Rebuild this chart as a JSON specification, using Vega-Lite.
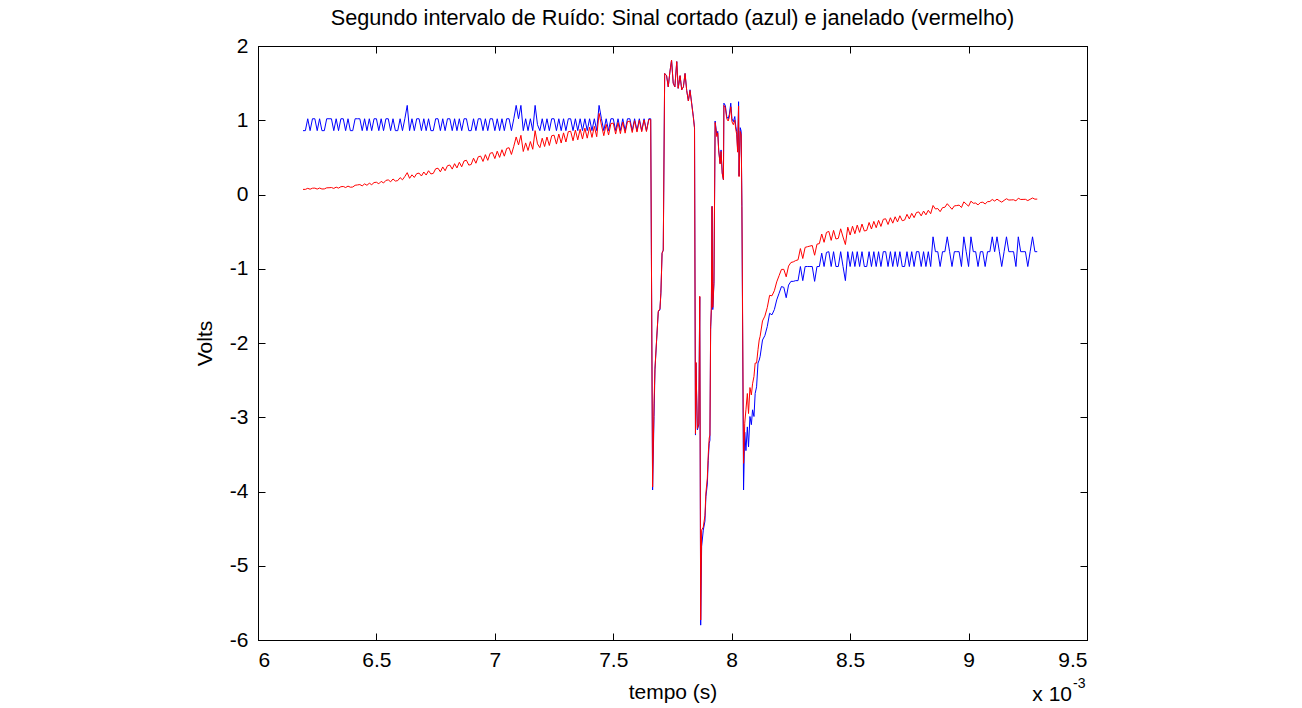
{
"$schema": "https://vega.github.io/schema/vega-lite/v6.json",
"autosize": {"type": "none"},
"padding": {"left": 258, "top": 46, "right": 215, "bottom": 68},
"width": 829,
"height": 594,
"background": "white",
"title": {"text": "Segundo intervalo de Ruído: Sinal cortado (azul) e janelado (vermelho)", "font": "Liberation Sans", "fontSize": 21.7, "fontWeight": "normal", "color": "black", "anchor": "middle", "offset": 5},
"config": {
  "view": {"stroke": "black", "strokeWidth": 1},
  "axis": {"grid": false, "domainColor": "black", "domainWidth": 1, "tickColor": "black", "tickWidth": 1, "labelColor": "black", "labelFont": "Liberation Sans", "labelFontSize": 21, "titleFont": "Liberation Sans", "titleFontSize": 21, "titleFontWeight": "normal", "titleColor": "black"}
},
"data": {"values": [
{"t":6.19,"b":0.86,"r":0.069},
{"t":6.20,"b":0.86,"r":0.069},
{"t":6.21,"b":1.02,"r":0.083},
{"t":6.22,"b":0.86,"r":0.071},
{"t":6.23,"b":1.02,"r":0.085},
{"t":6.24,"b":1.02,"r":0.086},
{"t":6.25,"b":0.86,"r":0.073},
{"t":6.26,"b":1.02,"r":0.087},
{"t":6.27,"b":0.86,"r":0.074},
{"t":6.28,"b":0.86,"r":0.075},
{"t":6.29,"b":1.02,"r":0.090},
{"t":6.30,"b":1.02,"r":0.091},
{"t":6.31,"b":1.02,"r":0.094},
{"t":6.32,"b":0.86,"r":0.082},
{"t":6.33,"b":1.02,"r":0.099},
{"t":6.34,"b":0.86,"r":0.086},
{"t":6.35,"b":1.02,"r":0.105},
{"t":6.36,"b":1.02,"r":0.108},
{"t":6.37,"b":0.86,"r":0.094},
{"t":6.38,"b":1.02,"r":0.113},
{"t":6.39,"b":0.86,"r":0.098},
{"t":6.40,"b":0.86,"r":0.101},
{"t":6.41,"b":1.02,"r":0.124},
{"t":6.42,"b":1.02,"r":0.129},
{"t":6.43,"b":1.02,"r":0.134},
{"t":6.44,"b":0.86,"r":0.116},
{"t":6.45,"b":1.02,"r":0.143},
{"t":6.46,"b":0.86,"r":0.124},
{"t":6.47,"b":1.02,"r":0.152},
{"t":6.48,"b":0.86,"r":0.132},
{"t":6.49,"b":1.02,"r":0.161},
{"t":6.50,"b":1.02,"r":0.165},
{"t":6.51,"b":0.86,"r":0.144},
{"t":6.52,"b":1.02,"r":0.177},
{"t":6.53,"b":0.86,"r":0.155},
{"t":6.54,"b":1.02,"r":0.190},
{"t":6.55,"b":1.02,"r":0.197},
{"t":6.56,"b":0.86,"r":0.171},
{"t":6.57,"b":1.02,"r":0.209},
{"t":6.58,"b":0.86,"r":0.181},
{"t":6.59,"b":0.86,"r":0.187},
{"t":6.60,"b":1.02,"r":0.227},
{"t":6.61,"b":0.86,"r":0.198},
{"t":6.62,"b":1.02,"r":0.243},
{"t":6.63,"b":1.20,"r":0.294},
{"t":6.64,"b":0.86,"r":0.218},
{"t":6.65,"b":1.02,"r":0.265},
{"t":6.66,"b":0.86,"r":0.230},
{"t":6.67,"b":1.02,"r":0.281},
{"t":6.68,"b":1.02,"r":0.288},
{"t":6.69,"b":0.86,"r":0.249},
{"t":6.70,"b":1.02,"r":0.303},
{"t":6.71,"b":0.86,"r":0.262},
{"t":6.72,"b":1.02,"r":0.320},
{"t":6.73,"b":0.86,"r":0.277},
{"t":6.74,"b":0.86,"r":0.284},
{"t":6.75,"b":1.02,"r":0.346},
{"t":6.76,"b":1.02,"r":0.354},
{"t":6.77,"b":0.86,"r":0.305},
{"t":6.78,"b":1.02,"r":0.371},
{"t":6.79,"b":0.86,"r":0.320},
{"t":6.80,"b":1.02,"r":0.388},
{"t":6.81,"b":1.02,"r":0.397},
{"t":6.82,"b":0.86,"r":0.342},
{"t":6.83,"b":1.02,"r":0.415},
{"t":6.84,"b":0.86,"r":0.358},
{"t":6.85,"b":1.02,"r":0.434},
{"t":6.86,"b":0.86,"r":0.373},
{"t":6.87,"b":1.02,"r":0.452},
{"t":6.88,"b":1.02,"r":0.461},
{"t":6.89,"b":0.86,"r":0.396},
{"t":6.90,"b":0.86,"r":0.404},
{"t":6.91,"b":1.02,"r":0.489},
{"t":6.92,"b":0.86,"r":0.421},
{"t":6.93,"b":1.02,"r":0.508},
{"t":6.94,"b":1.02,"r":0.517},
{"t":6.95,"b":0.86,"r":0.445},
{"t":6.96,"b":1.02,"r":0.537},
{"t":6.97,"b":0.86,"r":0.460},
{"t":6.98,"b":1.02,"r":0.555},
{"t":6.99,"b":1.02,"r":0.565},
{"t":7.00,"b":0.86,"r":0.484},
{"t":7.01,"b":1.02,"r":0.583},
{"t":7.02,"b":0.86,"r":0.500},
{"t":7.03,"b":1.02,"r":0.603},
{"t":7.04,"b":0.86,"r":0.516},
{"t":7.05,"b":1.02,"r":0.621},
{"t":7.06,"b":1.02,"r":0.630},
{"t":7.07,"b":0.86,"r":0.539},
{"t":7.08,"b":1.02,"r":0.650},
{"t":7.09,"b":1.20,"r":0.775},
{"t":7.10,"b":1.02,"r":0.668},
{"t":7.11,"b":1.20,"r":0.797},
{"t":7.12,"b":0.86,"r":0.579},
{"t":7.13,"b":1.02,"r":0.695},
{"t":7.14,"b":0.86,"r":0.593},
{"t":7.15,"b":1.02,"r":0.713},
{"t":7.16,"b":0.86,"r":0.609},
{"t":7.17,"b":1.20,"r":0.860},
{"t":7.18,"b":0.94,"r":0.682},
{"t":7.19,"b":0.86,"r":0.631},
{"t":7.20,"b":1.02,"r":0.758},
{"t":7.21,"b":0.86,"r":0.646},
{"t":7.22,"b":1.02,"r":0.774},
{"t":7.23,"b":0.86,"r":0.660},
{"t":7.24,"b":1.02,"r":0.791},
{"t":7.25,"b":1.02,"r":0.799},
{"t":7.26,"b":0.86,"r":0.679},
{"t":7.27,"b":1.02,"r":0.814},
{"t":7.28,"b":0.86,"r":0.693},
{"t":7.29,"b":1.02,"r":0.830},
{"t":7.30,"b":0.86,"r":0.707},
{"t":7.31,"b":1.02,"r":0.846},
{"t":7.32,"b":1.02,"r":0.852},
{"t":7.33,"b":0.86,"r":0.724},
{"t":7.34,"b":1.02,"r":0.866},
{"t":7.35,"b":0.86,"r":0.736},
{"t":7.36,"b":1.02,"r":0.879},
{"t":7.37,"b":0.86,"r":0.747},
{"t":7.38,"b":1.02,"r":0.894},
{"t":7.39,"b":0.86,"r":0.759},
{"t":7.40,"b":1.02,"r":0.907},
{"t":7.41,"b":0.86,"r":0.769},
{"t":7.42,"b":1.02,"r":0.918},
{"t":7.43,"b":0.86,"r":0.778},
{"t":7.44,"b":1.20,"r":1.092},
{"t":7.45,"b":1.02,"r":0.934},
{"t":7.46,"b":0.86,"r":0.792},
{"t":7.47,"b":1.02,"r":0.945},
{"t":7.48,"b":0.86,"r":0.801},
{"t":7.49,"b":1.02,"r":0.956},
{"t":7.50,"b":1.02,"r":0.961},
{"t":7.51,"b":0.86,"r":0.814},
{"t":7.52,"b":1.02,"r":0.968},
{"t":7.53,"b":0.86,"r":0.820},
{"t":7.54,"b":1.02,"r":0.975},
{"t":7.55,"b":0.86,"r":0.826},
{"t":7.56,"b":1.02,"r":0.983},
{"t":7.57,"b":1.02,"r":0.986},
{"t":7.58,"b":0.86,"r":0.835},
{"t":7.59,"b":1.02,"r":0.993},
{"t":7.60,"b":0.86,"r":0.841},
{"t":7.61,"b":1.02,"r":1.000},
{"t":7.62,"b":0.86,"r":0.845},
{"t":7.63,"b":1.02,"r":1.004},
{"t":7.64,"b":0.86,"r":0.848},
{"t":7.65,"b":1.02,"r":1.008},
{"t":7.658,"b":1.02,"r":1.01},
{"t":7.666,"b":-3.98,"r":-3.94},
{"t":7.672,"b":-2.99,"r":-2.81},
{"t":7.676,"b":-2.36,"r":-2.34},
{"t":7.683,"b":-1.96,"r":-1.95},
{"t":7.690,"b":-1.58,"r":-1.57},
{"t":7.697,"b":-1.55,"r":-1.54},
{"t":7.701,"b":-1.33,"r":-1.32},
{"t":7.706,"b":-0.79,"r":-0.79},
{"t":7.711,"b":-0.75,"r":-0.75},
{"t":7.717,"b":1.63,"r":1.63},
{"t":7.725,"b":1.60,"r":1.60},
{"t":7.732,"b":1.45,"r":1.45},
{"t":7.739,"b":1.65,"r":1.65},
{"t":7.746,"b":1.81,"r":1.81},
{"t":7.753,"b":1.50,"r":1.50},
{"t":7.760,"b":1.45,"r":1.45},
{"t":7.768,"b":1.79,"r":1.79},
{"t":7.774,"b":1.43,"r":1.43},
{"t":7.782,"b":1.60,"r":1.60},
{"t":7.789,"b":1.41,"r":1.41},
{"t":7.796,"b":1.45,"r":1.45},
{"t":7.803,"b":1.63,"r":1.63},
{"t":7.810,"b":1.40,"r":1.40},
{"t":7.817,"b":1.26,"r":1.26},
{"t":7.824,"b":1.41,"r":1.40},
{"t":7.831,"b":1.23,"r":1.22},
{"t":7.838,"b":1.05,"r":1.04},
{"t":7.843,"b":0.90,"r":0.89},
{"t":7.847,"b":-3.24,"r":-3.22},
{"t":7.849,"b":-2.27,"r":-2.26},
{"t":7.855,"b":-3.17,"r":-3.15},
{"t":7.861,"b":-3.10,"r":-3.08},
{"t":7.865,"b":-1.38,"r":-1.37},
{"t":7.869,"b":-5.80,"r":-5.73},
{"t":7.873,"b":-4.74,"r":-4.52},
{"t":7.880,"b":-4.52,"r":-4.48},
{"t":7.887,"b":-4.40,"r":-4.32},
{"t":7.891,"b":-4.07,"r":-4.02},
{"t":7.897,"b":-3.90,"r":-3.82},
{"t":7.901,"b":-3.58,"r":-3.50},
{"t":7.905,"b":-3.35,"r":-3.28},
{"t":7.908,"b":-3.31,"r":-3.24},
{"t":7.911,"b":-1.82,"r":-1.78},
{"t":7.914,"b":-1.56,"r":-1.53},
{"t":7.917,"b":-0.16,"r":-0.16},
{"t":7.920,"b":-1.55,"r":-1.52},
{"t":7.925,"b":-1.20,"r":-1.17},
{"t":7.930,"b":0.99,"r":0.97},
{"t":7.937,"b":0.80,"r":0.78},
{"t":7.941,"b":0.85,"r":0.83},
{"t":7.945,"b":0.60,"r":0.59},
{"t":7.951,"b":0.42,"r":0.41},
{"t":7.955,"b":0.60,"r":0.58},
{"t":7.960,"b":0.29,"r":0.28},
{"t":7.965,"b":0.20,"r":0.20},
{"t":7.967,"b":1.23,"r":1.20},
{"t":7.973,"b":1.20,"r":1.17},
{"t":7.979,"b":1.05,"r":1.02},
{"t":7.985,"b":1.02,"r":0.99},
{"t":7.990,"b":1.08,"r":1.04},
{"t":7.996,"b":1.23,"r":1.18},
{"t":8.001,"b":1.02,"r":0.98},
{"t":8.007,"b":0.98,"r":0.94},
{"t":8.013,"b":1.05,"r":1.00},
{"t":8.017,"b":0.92,"r":0.88},
{"t":8.021,"b":0.85,"r":0.81},
{"t":8.025,"b":0.60,"r":0.57},
{"t":8.029,"b":1.25,"r":1.19},
{"t":8.031,"b":0.25,"r":0.24},
{"t":8.036,"b":0.90,"r":0.85},
{"t":8.040,"b":0.85,"r":0.80},
{"t":8.043,"b":-0.16,"r":-0.15},
{"t":8.050,"b":-3.98,"r":-3.62},
{"t":8.055,"b":-3.20,"r":-3.08},
{"t":8.060,"b":-3.45,"r":-2.90},
{"t":8.066,"b":-3.13,"r":-2.68},
{"t":8.071,"b":-3.40,"r":-2.95},
{"t":8.077,"b":-2.99,"r":-2.60},
{"t":8.083,"b":-3.10,"r":-2.70},
{"t":8.088,"b":-2.90,"r":-2.55},
{"t":8.094,"b":-2.99,"r":-2.45},
{"t":8.099,"b":-2.68,"r":-2.27},
{"t":8.105,"b":-2.59,"r":-2.27},
{"t":8.111,"b":-2.27,"r":-2.09},
{"t":8.116,"b":-2.23,"r":-1.96},
{"t":8.12,"b":-2.18,"r":-1.910},
{"t":8.13,"b":-1.96,"r":-1.703},
{"t":8.14,"b":-1.90,"r":-1.638},
{"t":8.15,"b":-1.78,"r":-1.524},
{"t":8.16,"b":-1.60,"r":-1.358},
{"t":8.17,"b":-1.62,"r":-1.364},
{"t":8.18,"b":-1.55,"r":-1.296},
{"t":8.19,"b":-1.42,"r":-1.177},
{"t":8.20,"b":-1.33,"r":-1.093},
{"t":8.21,"b":-1.24,"r":-1.009},
{"t":8.22,"b":-1.25,"r":-1.008},
{"t":8.23,"b":-1.39,"r":-1.109},
{"t":8.24,"b":-1.22,"r":-0.964},
{"t":8.25,"b":-1.17,"r":-0.916},
{"t":8.26,"b":-1.17,"r":-0.907},
{"t":8.27,"b":-1.16,"r":-0.890},
{"t":8.28,"b":-1.16,"r":-0.880},
{"t":8.29,"b":-0.97,"r":-0.728},
{"t":8.30,"b":-1.16,"r":-0.862},
{"t":8.31,"b":-0.97,"r":-0.712},
{"t":8.32,"b":-0.97,"r":-0.703},
{"t":8.33,"b":-0.97,"r":-0.695},
{"t":8.34,"b":-0.97,"r":-0.687},
{"t":8.35,"b":-1.17,"r":-0.818},
{"t":8.36,"b":-0.97,"r":-0.669},
{"t":8.37,"b":-0.97,"r":-0.661},
{"t":8.38,"b":-0.79,"r":-0.532},
{"t":8.39,"b":-0.97,"r":-0.644},
{"t":8.40,"b":-0.78,"r":-0.511},
{"t":8.41,"b":-0.77,"r":-0.497},
{"t":8.42,"b":-0.97,"r":-0.618},
{"t":8.43,"b":-0.77,"r":-0.483},
{"t":8.44,"b":-0.97,"r":-0.599},
{"t":8.45,"b":-0.97,"r":-0.591},
{"t":8.46,"b":-0.77,"r":-0.462},
{"t":8.47,"b":-0.97,"r":-0.573},
{"t":8.48,"b":-1.16,"r":-0.674},
{"t":8.49,"b":-0.77,"r":-0.440},
{"t":8.50,"b":-0.97,"r":-0.546},
{"t":8.51,"b":-0.77,"r":-0.427},
{"t":8.52,"b":-0.97,"r":-0.528},
{"t":8.53,"b":-0.77,"r":-0.412},
{"t":8.54,"b":-0.97,"r":-0.510},
{"t":8.55,"b":-0.77,"r":-0.398},
{"t":8.56,"b":-0.97,"r":-0.492},
{"t":8.57,"b":-0.97,"r":-0.483},
{"t":8.58,"b":-0.77,"r":-0.377},
{"t":8.59,"b":-0.97,"r":-0.465},
{"t":8.60,"b":-0.77,"r":-0.362},
{"t":8.61,"b":-0.97,"r":-0.447},
{"t":8.62,"b":-0.77,"r":-0.348},
{"t":8.63,"b":-0.97,"r":-0.430},
{"t":8.64,"b":-0.77,"r":-0.334},
{"t":8.65,"b":-0.77,"r":-0.327},
{"t":8.66,"b":-0.97,"r":-0.404},
{"t":8.67,"b":-0.77,"r":-0.313},
{"t":8.68,"b":-0.97,"r":-0.386},
{"t":8.69,"b":-0.77,"r":-0.300},
{"t":8.70,"b":-0.97,"r":-0.369},
{"t":8.71,"b":-0.77,"r":-0.286},
{"t":8.72,"b":-0.97,"r":-0.353},
{"t":8.73,"b":-0.97,"r":-0.344},
{"t":8.74,"b":-0.77,"r":-0.267},
{"t":8.75,"b":-0.97,"r":-0.329},
{"t":8.76,"b":-0.77,"r":-0.254},
{"t":8.77,"b":-0.97,"r":-0.312},
{"t":8.78,"b":-0.77,"r":-0.242},
{"t":8.79,"b":-0.77,"r":-0.235},
{"t":8.80,"b":-0.97,"r":-0.288},
{"t":8.81,"b":-0.77,"r":-0.223},
{"t":8.82,"b":-0.97,"r":-0.274},
{"t":8.83,"b":-0.77,"r":-0.212},
{"t":8.84,"b":-0.97,"r":-0.259},
{"t":8.85,"b":-0.57,"r":-0.148},
{"t":8.86,"b":-0.77,"r":-0.195},
{"t":8.87,"b":-0.77,"r":-0.189},
{"t":8.88,"b":-0.97,"r":-0.231},
{"t":8.89,"b":-0.77,"r":-0.177},
{"t":8.90,"b":-0.77,"r":-0.172},
{"t":8.91,"b":-0.57,"r":-0.124},
{"t":8.92,"b":-0.77,"r":-0.162},
{"t":8.93,"b":-0.97,"r":-0.199},
{"t":8.94,"b":-0.77,"r":-0.153},
{"t":8.95,"b":-0.77,"r":-0.149},
{"t":8.96,"b":-0.77,"r":-0.143},
{"t":8.97,"b":-0.97,"r":-0.175},
{"t":8.98,"b":-0.57,"r":-0.099},
{"t":8.99,"b":-0.77,"r":-0.129},
{"t":9.00,"b":-0.97,"r":-0.157},
{"t":9.01,"b":-0.57,"r":-0.090},
{"t":9.02,"b":-0.77,"r":-0.118},
{"t":9.03,"b":-0.77,"r":-0.115},
{"t":9.04,"b":-0.97,"r":-0.140},
{"t":9.05,"b":-0.77,"r":-0.108},
{"t":9.06,"b":-0.77,"r":-0.104},
{"t":9.07,"b":-0.97,"r":-0.127},
{"t":9.08,"b":-0.77,"r":-0.097},
{"t":9.09,"b":-0.77,"r":-0.094},
{"t":9.10,"b":-0.57,"r":-0.067},
{"t":9.11,"b":-0.77,"r":-0.088},
{"t":9.12,"b":-0.57,"r":-0.063},
{"t":9.13,"b":-0.77,"r":-0.084},
{"t":9.14,"b":-0.97,"r":-0.103},
{"t":9.15,"b":-0.77,"r":-0.079},
{"t":9.16,"b":-0.57,"r":-0.057},
{"t":9.17,"b":-0.77,"r":-0.075},
{"t":9.18,"b":-0.77,"r":-0.073},
{"t":9.19,"b":-0.77,"r":-0.071},
{"t":9.20,"b":-0.97,"r":-0.086},
{"t":9.21,"b":-0.57,"r":-0.050},
{"t":9.22,"b":-0.77,"r":-0.067},
{"t":9.23,"b":-0.77,"r":-0.066},
{"t":9.24,"b":-0.77,"r":-0.065},
{"t":9.25,"b":-0.97,"r":-0.082},
{"t":9.26,"b":-0.77,"r":-0.065},
{"t":9.27,"b":-0.57,"r":-0.047},
{"t":9.28,"b":-0.77,"r":-0.063},
{"t":9.29,"b":-0.77,"r":-0.062}
]},
"resolve": {"scale": {"x": "independent", "y": "independent"}, "axis": {"x": "independent", "y": "independent"}},
"layer": [
  {
    "mark": {"type": "line", "color": "#0000FF", "strokeWidth": 1, "interpolate": "linear"},
    "encoding": {
      "x": {"field": "t", "type": "quantitative", "scale": {"domain": [6, 9.5], "nice": false, "zero": false},
        "axis": {"orient": "bottom", "values": [6, 6.5, 7, 7.5, 8, 8.5, 9, 9.5], "labelExpr": "datum.value + ''", "title": "tempo (s)", "tickSize": -7, "labelPadding": 16, "titlePadding": 11}},
      "y": {"field": "b", "type": "quantitative", "scale": {"domain": [-6, 2], "nice": false, "zero": false},
        "axis": {"orient": "left", "values": [-6, -5, -4, -3, -2, -1, 0, 1, 2], "labelExpr": "datum.value + ''", "title": "Volts", "tickSize": -7, "labelPadding": 17, "titlePadding": 14}}
    }
  },
  {
    "mark": {"type": "line", "color": "#FF0000", "strokeWidth": 1, "interpolate": "linear"},
    "encoding": {
      "x": {"field": "t", "type": "quantitative", "scale": {"domain": [6, 9.5], "nice": false, "zero": false},
        "axis": {"orient": "top", "values": [6, 6.5, 7, 7.5, 8, 8.5, 9, 9.5], "labels": false, "title": null, "tickSize": -7}},
      "y": {"field": "r", "type": "quantitative", "scale": {"domain": [-6, 2], "nice": false, "zero": false},
        "axis": {"orient": "right", "values": [-6, -5, -4, -3, -2, -1, 0, 1, 2], "labels": false, "title": null, "tickSize": -7}}
    }
  },
  {
    "data": {"values": [{"t": 9.5, "v": -6, "txt": "x 10"}]},
    "mark": {"type": "text", "align": "right", "baseline": "alphabetic", "font": "Liberation Sans", "fontSize": 21, "color": "black", "dx": -15, "dy": 61},
    "encoding": {
      "x": {"field": "t", "type": "quantitative", "scale": {"domain": [6, 9.5], "nice": false, "zero": false}, "axis": null},
      "y": {"field": "v", "type": "quantitative", "scale": {"domain": [-6, 2], "nice": false, "zero": false}, "axis": null},
      "text": {"field": "txt"}
    }
  },
  {
    "data": {"values": [{"t": 9.5, "v": -6, "txt": "-3"}]},
    "mark": {"type": "text", "align": "left", "baseline": "alphabetic", "font": "Liberation Sans", "fontSize": 14, "color": "black", "dx": -14, "dy": 48},
    "encoding": {
      "x": {"field": "t", "type": "quantitative", "scale": {"domain": [6, 9.5], "nice": false, "zero": false}, "axis": null},
      "y": {"field": "v", "type": "quantitative", "scale": {"domain": [-6, 2], "nice": false, "zero": false}, "axis": null},
      "text": {"field": "txt"}
    }
  }
]
}
